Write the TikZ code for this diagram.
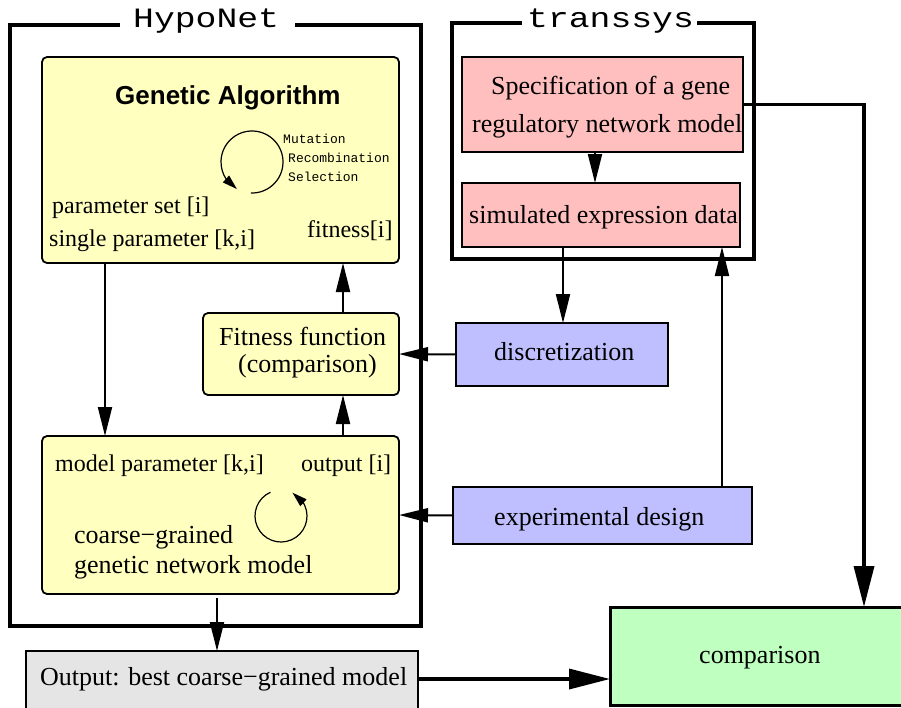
\documentclass[tikz,border=0pt]{standalone}
\usepackage{fontspec}
\setmainfont{Liberation Serif}
\newfontfamily\gafont{Liberation Sans}
\newfontfamily\titlemono{Liberation Mono}
\usetikzlibrary{arrows.meta,bending}
\definecolor{gayel}{RGB}{255,255,192}
\definecolor{tspink}{RGB}{255,191,191}
\definecolor{prblue}{RGB}{191,191,255}
\definecolor{cmpgreen}{RGB}{191,255,191}
\definecolor{outgray}{RGB}{229,229,229}
\begin{document}
\begin{tikzpicture}[x=1pt,y=-1pt,
  container/.style={line width=3.5pt},
  ybox/.style={draw, fill=gayel, line width=1.8pt, rounded corners=5pt, inner sep=0pt, outer sep=0pt},
  pbox/.style={draw, fill=tspink, line width=1.1pt, inner sep=0pt, outer sep=0pt},
  bbox/.style={draw, fill=prblue, line width=2pt, inner sep=0pt, outer sep=0pt},
  gbox/.style={draw, fill=outgray, line width=1.2pt, inner sep=0pt, outer sep=0pt},
  cbox/.style={draw, fill=cmpgreen, line width=3pt, inner sep=0pt, outer sep=0pt},
  lbl/.style={inner sep=0pt, anchor=base west, font=\fontsize{26}{30}\selectfont},
  slbl/.style={inner sep=0pt, anchor=base west, font=\fontsize{24}{28}\selectfont},
  mlbl/.style={inner sep=0pt, anchor=base west, font=\titlemono\fontsize{13}{15}\selectfont},
  ttl/.style={inner sep=0pt, anchor=base west, font=\titlemono\fontsize{28}{32}\selectfont},
  arr/.style={line width=2pt, -{Triangle[length=29pt,width=14pt]}},
  thickarr/.style={line width=3.5pt, -{Triangle[length=41pt,width=20pt]}},
  cyc/.style={line width=1.2pt, -{Triangle[length=15pt,width=9pt]}}]
\useasboundingbox (0,0) rectangle (901,707);

% containers
\draw[container] (120,25) -| (10,626) -| (421,25) -- (295,25);
\draw[container] (522,23) -| (452,259) -| (754,23) -- (697,23);
\node[ttl] (hypotitle) at (133,27) {\scalebox{1.24}[1]{HypoNet}};
\node[ttl] (transtitle) at (527,27) {\scalebox{1.24}[1]{transsys}};

% HypoNet boxes
\node[ybox, minimum width=357, minimum height=206] (ga) at (220.5,160) {};
\node[ybox, minimum width=196, minimum height=82] (fit) at (301,354) {};
\node[ybox, minimum width=357, minimum height=158] (model) at (220.5,515) {};
\node[gbox, minimum width=392, minimum height=61] (output) at (222,681.5) {};

% transsys boxes
\node[pbox, minimum width=281, minimum height=95] (spec) at (602.5,104.5) {};
\node[pbox, minimum width=278, minimum height=64] (sim) at (601,215) {};

% processing boxes
\node[bbox, minimum width=212, minimum height=63] (disc) at (562,354.5) {};
\node[bbox, minimum width=299, minimum height=57] (exp) at (602.5,515.5) {};
\node[cbox, minimum width=295, minimum height=98] (comp) at (757.5,656) {};

% texts
\node[inner sep=0pt, anchor=base west, font=\gafont\bfseries\fontsize{26}{30}\selectfont] (gatitle) at (115,104) {Genetic Algorithm};
\node[mlbl] (mut) at (283,143) {Mutation};
\node[mlbl] (rec) at (288,162) {Recombination};
\node[mlbl] (sel) at (288,181) {Selection};
\node[slbl] (pset) at (52,213) {parameter set [i]};
\node[slbl] (spar) at (49,246) {single parameter [k,i]};
\node[slbl] (fiti) at (307,237) {fitness[i]};
\node[lbl] (fit1) at (219,345) {Fitness function};
\node[lbl] (fit2) at (238,372) {(comparison)};
\node[slbl] (mpar) at (55,471) {model parameter [k,i]};
\node[slbl] (outi) at (301,471) {output [i]};
\node[lbl] (cg1) at (74,543) {coarse−grained};
\node[lbl] (cg2) at (74,573) {genetic network model};
\node[lbl] (outtxt) at (40,685) {Output: best coarse−grained model};
\node[lbl] (spec1) at (491,94) {Specification of a gene};
\node[lbl] (spec2) at (472,132) {regulatory network model};
\node[lbl] (simtxt) at (469,223) {simulated expression data};
\node[lbl] (disctxt) at (494,360) {discretization};
\node[lbl] (exptxt) at (494,525) {experimental design};
\node[lbl] (comptxt) at (699,663) {comparison};

% cycles
\coordinate (gacyc) at (252,162);
\draw[cyc] (gacyc) ++(92:31) arc[start angle=92, end angle=-241, radius=31];
\coordinate (mcyc) at (281,516);
\draw[cyc] (mcyc) ++(-114:26) arc[start angle=-114, end angle=-424, radius=26];

% connectors
\draw[arr] ([xshift=133pt]spec.south west) -- ([xshift=133pt]sim.north west);
\draw[thickarr] (spec.east) -| ([xshift=254pt]comp.north west);
\draw[arr] ([xshift=101pt]sim.south west) -- ([xshift=107pt]disc.north west);
\draw[arr] (disc.west) -- (fit.east);
\draw[arr] (exp.west) -- (model.east);
\draw[arr] ([xshift=269pt]exp.north west) -- ([xshift=260pt]sim.south west);
\draw[arr] ([xshift=63pt]ga.south west) -- ([xshift=63pt]model.north west);
\draw[arr] ([xshift=301pt]model.north west) -- ([xshift=140pt]fit.south west);
\draw[arr] ([xshift=140pt]fit.north west) -- ([xshift=301pt]ga.south west);
\draw[arr, shorten <=4pt] ([xshift=175pt]model.south west) -- ([xshift=191pt]output.north west);
\draw[thickarr] ([yshift=2.5pt]output.east) -- ([yshift=2.5pt]output.east -| comp.west);
\end{tikzpicture}
\end{document}
